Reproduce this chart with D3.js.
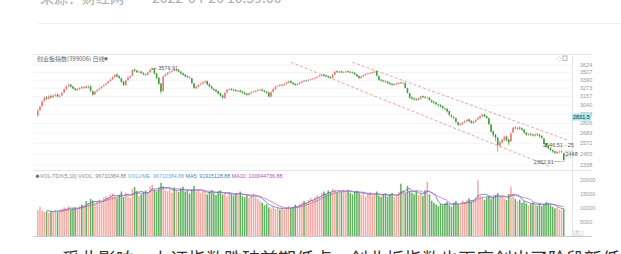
<!DOCTYPE html>
<html>
<head>
<meta charset="utf-8">
<script src="https://cdn.jsdelivr.net/npm/d3@7"></script>
<style>
  body { margin: 0; background: #fff; overflow: hidden; }
  svg { display: block; font-family: "Noto Sans CJK SC", "Noto Sans", sans-serif; }
</style>
</head>
<body>
<svg width="621" height="254"></svg>
<script>
// daily candles (log price axis)
const opens = [
  2900,2965,3020,3090,3140,3118,3155,3140,3160,3178,3148,3165,3205,3258,3295,3318,3292,3265,3238,3252,
  3280,3268,3290,3272,3295,3225,3180,3222,3245,3268,3295,3318,3340,3370,3395,3432,3470,3445,3412,3365,
  3310,3385,3420,3450,3545,3530,3500,3515,3492,3472,3465,3502,3540,3565,3485,3420,3335,3225,3445,3468,
  3498,3515,3535,3525,3540,3512,3490,3465,3445,3425,3410,3335,3268,3288,3318,3332,3348,3370,3325,3295,
  3255,3245,3222,3195,3165,3128,3205,3240,3255,3248,3240,3220,3235,3222,3205,3190,3170,3192,3212,3215,
  3228,3238,3248,3232,3218,3205,3148,3212,3250,3292,3310,3300,3312,3328,3345,3370,3348,3330,3310,3328,
  3348,3375,3365,3378,3390,3400,3408,3420,3438,3448,3468,3455,3445,3432,3415,3465,3520,3500,3518,3495,
  3505,3520,3510,3500,3495,3470,3445,3412,3438,3460,3478,3482,3490,3500,3520,3445,3392,3380,3370,3362,
  3345,3330,3310,3322,3330,3348,3335,3340,3265,3195,3138,3125,3118,3098,3120,3155,3145,3128,3135,3098,
  3078,3068,3040,3035,3020,2990,2985,2955,2900,2880,2865,2815,2778,2790,2810,2828,2850,2830,2800,2822,
  2848,2865,2888,2912,2890,2865,2785,2705,2665,2630,2540,2575,2600,2645,2610,2590,2690,2750,2730,2750,
  2740,2725,2688,2660,2675,2665,2650,2672,2665,2650,2620,2565,2535,2515,2490,2478,2455,2465,2470,2455
];
const highs = [
  2985,3030,3100,3150,3160,3168,3175,3182,3195,3190,3178,3215,3270,3305,3335,3330,3300,3275,3270,3285,
  3295,3298,3305,3310,3305,3235,3230,3255,3280,3302,3325,3350,3380,3410,3445,3480,3485,3455,3420,3372,
  3392,3440,3458,3550,3560,3540,3530,3525,3505,3488,3512,3552,3576.91,3570,3495,3428,3340,3448,3485,3508,
  3528,3535,3550,3555,3550,3522,3500,3475,3458,3440,3418,3342,3302,3325,3345,3365,3382,3378,3335,3305,
  3268,3255,3230,3205,3172,3210,3255,3265,3268,3260,3252,3245,3248,3232,3215,3198,3205,3222,3232,3242,
  3252,3258,3260,3242,3228,3212,3220,3265,3302,3315,3322,3328,3342,3362,3380,3382,3358,3340,3342,3362,
  3378,3388,3392,3400,3408,3420,3430,3448,3465,3478,3480,3465,3455,3442,3480,3525,3530,3525,3528,3520,
  3528,3530,3522,3515,3505,3478,3452,3450,3472,3488,3498,3505,3515,3530,3528,3452,3402,3390,3382,3372,
  3355,3340,3338,3348,3355,3360,3358,3348,3272,3200,3150,3135,3128,3138,3162,3165,3155,3145,3142,3108,
  3088,3075,3052,3045,3028,3002,2992,2962,2912,2895,2872,2822,2810,2820,2838,2858,2860,2840,2835,2855,
  2882,2902,2922,2920,2898,2870,2792,2712,2672,2635,2595,2620,2652,2655,2618,2690,2760,2765,2758,2762,
  2750,2732,2695,2682,2685,2676,2680,2682,2672,2658,2625,2572,2545,2522,2500,2485,2482,2488,2492,2462
];
const lows = [
  2880,2950,3005,3075,3100,3105,3120,3128,3145,3135,3130,3155,3195,3240,3280,3272,3250,3225,3225,3240,
  3255,3255,3262,3260,3215,3160,3168,3210,3235,3255,3282,3305,3330,3358,3385,3420,3425,3400,3345,3295,
  3300,3370,3410,3442,3505,3488,3490,3478,3455,3445,3455,3495,3530,3470,3400,3315,3190,3220,3430,3455,
  3485,3500,3515,3512,3498,3470,3450,3428,3415,3400,3325,3255,3255,3275,3305,3320,3338,3310,3278,3248,
  3228,3205,3178,3145,3115,3120,3195,3228,3230,3222,3212,3210,3205,3188,3172,3160,3162,3182,3200,3205,
  3218,3228,3220,3205,3188,3138,3140,3205,3242,3282,3292,3290,3302,3318,3335,3335,3315,3302,3300,3320,
  3340,3358,3355,3368,3378,3388,3395,3410,3428,3440,3440,3430,3418,3405,3408,3458,3492,3490,3488,3485,
  3495,3495,3485,3480,3458,3428,3400,3405,3430,3450,3468,3472,3480,3492,3440,3375,3362,3352,3345,3328,
  3312,3300,3300,3312,3320,3328,3325,3262,3190,3120,3105,3095,3088,3090,3112,3128,3122,3115,3090,3062,
  3050,3032,3015,3000,2980,2965,2935,2890,2868,2850,2805,2765,2768,2778,2798,2818,2815,2795,2790,2812,
  2838,2858,2878,2872,2855,2778,2688,2640,2590,2472,2520,2560,2590,2585,2540,2580,2682,2728,2720,2722,
  2710,2678,2650,2648,2650,2642,2640,2650,2632,2615,2548,2515,2495,2478,2460,2445,2448,2455,2460,2362.91
];
const closes = [
  2960,3010,3085,3132,3120,3150,3138,3165,3173,3150,3160,3200,3255,3290,3314,3290,3262,3243,3255,3268,
  3271,3282,3276,3290,3230,3173,3218,3240,3265,3290,3310,3338,3365,3392,3430,3462,3440,3417,3360,3314,
  3380,3425,3440,3538,3525,3505,3512,3490,3470,3462,3500,3540,3569,3480,3417,3330,3218,3440,3470,3495,
  3512,3520,3530,3538,3510,3485,3462,3440,3430,3417,3340,3271,3290,3314,3330,3350,3365,3320,3290,3260,
  3240,3218,3190,3160,3132,3200,3243,3250,3243,3235,3225,3230,3218,3200,3185,3173,3195,3210,3218,3230,
  3240,3243,3230,3215,3200,3150,3210,3255,3290,3300,3305,3314,3330,3350,3365,3345,3325,3314,3330,3350,
  3365,3370,3380,3387,3395,3405,3417,3435,3450,3462,3450,3440,3430,3417,3470,3512,3505,3512,3500,3508,
  3512,3505,3498,3493,3470,3440,3417,3440,3462,3475,3485,3493,3505,3512,3450,3387,3375,3365,3358,3340,
  3325,3314,3325,3335,3343,3340,3343,3270,3200,3132,3120,3110,3104,3125,3150,3140,3135,3132,3100,3075,
  3064,3045,3030,3015,2995,2980,2950,2907,2885,2869,2820,2783,2795,2807,2825,2844,2825,2807,2825,2844,
  2870,2890,2907,2885,2869,2790,2700,2660,2628,2548,2580,2605,2640,2600,2571,2680,2746,2740,2746,2735,
  2723,2690,2663,2670,2663,2655,2668,2663,2645,2628,2560,2530,2510,2493,2475,2461,2470,2472,2480,2385
];
// volume, in 万
const volumes = [
  9200,10400,9000,8600,8800,8300,8900,8700,9300,8500,8800,9600,10200,9800,10500,9400,9800,10100,9700,10600,
  11200,10800,12400,11800,13200,12600,11400,12100,13000,12500,13600,14200,13800,14800,15200,14100,13400,14600,15800,13900,
  15400,14200,13500,16800,17400,15900,14300,14800,15600,16200,15300,17600,18200,16400,15800,17100,18900,17800,16300,15900,
  16800,15400,17200,16100,15600,16900,17500,15800,16200,15100,16600,17800,15900,16400,15200,16000,15500,14800,15700,16300,
  15200,14600,15900,16200,14800,15300,14100,15600,14900,14400,15100,14700,15800,14200,13800,14500,13600,14300,15000,14100,
  13200,12400,11800,10900,11300,10200,9800,10400,9600,10100,9400,9900,9300,10200,10700,9800,10300,11100,10600,11400,
  11800,12400,11900,12800,13500,12900,13800,14600,14100,15300,15800,14900,16200,15600,16800,16300,15400,16100,15700,16500,
  15900,16200,15300,14800,15600,16100,15200,14600,15400,14100,14900,15500,14300,14700,15800,14400,13900,14800,15200,14000,
  14600,15300,13800,14200,15600,18600,16400,15200,17800,16100,15400,14800,15900,14600,15100,14200,16300,19200,14800,12600,
  11800,11200,10600,11400,10900,11600,12200,11000,10400,11800,12400,11200,10800,12600,11900,12800,13400,12300,12900,13600,
  19800,14200,13600,12900,13800,14400,13100,13900,14600,15200,13800,14100,13400,12800,14900,17600,14800,13200,12400,12900,
  11800,12300,11600,10900,11400,11900,11200,10800,11500,10600,11300,12100,11700,10900,10400,9800,10200,9400,9100,9700
];
const priceTicks = [2338, 2455, 2572, 2689, 2806, 2923, 3040, 3157, 3273, 3390, 3507, 3624];
const volTicks = [5000, 10000, 15000, 20000];
// drawn channel lines: [startIndex, startPrice, endIndex, endPrice]
const trendLines = [[143, 3660, 241, 2600], [115, 3660, 233, 2315]];

const upColor = '#ef7473';
const downColor = '#3a9d3a';
const upVol = '#f6aaa4';
const downVol = '#62b062';

const svg = d3.select('svg');
const N = closes.length;
const idx = d3.range(N);

const x = d3.scaleBand().domain(idx).range([37, 564.5]).paddingInner(0.3);
// centre of candle i (also works for positions past the last candle)
const cx = i => x(0) + x.step() * i + x.bandwidth() / 2;
const y = d3.scaleLog().domain([2338, 3624]).range([164.5, 64.5]);
const yv = d3.scaleLinear().domain([0, 20000]).range([236, 179.7]);

// page header (cut off at the top)
svg.append('text').attr('x', 40).attr('y', 3)
  .attr('font-size', 14).attr('fill', '#aaa')
  .text('来源：财经网　　2022-04-26 10:59:00');
svg.append('line').attr('x1', 38).attr('x2', 621).attr('y1', 23.5).attr('y2', 23.5)
  .attr('stroke', '#eee');

// frame
const frame = svg.append('g').attr('stroke', '#e6e6e6').attr('fill', 'none');
frame.append('line').attr('x1', 33).attr('x2', 592).attr('y1', 54.5).attr('y2', 54.5);
frame.append('line').attr('x1', 572.5).attr('x2', 572.5).attr('y1', 54).attr('y2', 237);
frame.append('line').attr('x1', 33).attr('x2', 592).attr('y1', 170.5).attr('y2', 170.5);
frame.append('line').attr('x1', 33).attr('x2', 592).attr('y1', 236.5).attr('y2', 236.5).attr('stroke', '#ccc');

// price grid
svg.append('g')
  .attr('transform', 'translate(572,0)')
  .call(d3.axisLeft(y).tickValues(priceTicks).tickSize(539).tickFormat(''))
  .call(g => g.select('.domain').remove())
  .call(g => g.selectAll('line').attr('stroke', '#f4f4f4'));

// price axis labels
svg.append('g')
  .attr('transform', 'translate(576,0)')
  .call(d3.axisRight(y).tickValues(priceTicks).tickSize(0).tickFormat(d3.format('d')))
  .call(g => g.select('.domain').remove())
  .call(g => g.selectAll('text').attr('font-size', 5.5).attr('fill', '#999')
    .attr('font-family', 'Liberation Sans, sans-serif').attr('dx', 1));

// titles
svg.append('text').attr('x', 37).attr('y', 60.5).attr('font-size', 6).attr('fill', '#666')
  .text('创业板指数(399006) 日线');
svg.append('circle').attr('cx', 106).attr('cy', 58.7).attr('r', 1.8).attr('fill', '#777');
svg.append('text').attr('x', 556).attr('y', 60.5).attr('font-size', 6).attr('fill', '#999').text('◇');
svg.append('rect').attr('x', 563).attr('y', 56).attr('width', 4).attr('height', 4.5)
  .attr('fill', 'none').attr('stroke', '#999').attr('stroke-width', 0.7);

// channel lines
svg.append('g').selectAll('line').data(trendLines).join('line')
  .attr('x1', d => cx(d[0])).attr('y1', d => y(d[1]))
  .attr('x2', d => cx(d[2])).attr('y2', d => y(d[3]))
  .attr('stroke', '#e77b7b').attr('stroke-width', 0.7).attr('stroke-dasharray', '3,2');

// candles
const candles = svg.append('g').selectAll('g').data(idx).join('g')
  .attr('stroke', i => closes[i] >= opens[i] ? upColor : downColor)
  .attr('fill', i => closes[i] >= opens[i] ? upColor : downColor);
candles.append('line')
  .attr('x1', cx).attr('x2', cx)
  .attr('y1', i => y(highs[i])).attr('y2', i => y(lows[i]))
  .attr('stroke-width', 0.6);
candles.append('rect')
  .attr('x', i => x(i)).attr('width', x.bandwidth())
  .attr('y', i => y(Math.max(opens[i], closes[i])))
  .attr('height', i => Math.max(0.6, Math.abs(y(opens[i]) - y(closes[i]))))
  .attr('stroke', 'none');

// high / low marks
const hi = d3.maxIndex(highs), lo = d3.minIndex(lows);
const mark = svg.append('g').attr('font-size', 5.5).attr('fill', '#555')
  .attr('font-family', 'Liberation Sans, sans-serif');
mark.append('line').attr('x1', cx(hi) + 1).attr('x2', cx(hi) + 5)
  .attr('y1', y(highs[hi]) + 1).attr('y2', y(highs[hi]) + 1).attr('stroke', '#777').attr('stroke-width', 0.5);
mark.append('text').attr('x', cx(hi) + 6).attr('y', y(highs[hi]) + 3).text(d3.format('.2f')(highs[hi]));
mark.append('line').attr('x1', cx(lo) - 10).attr('x2', cx(lo) - 1.5)
  .attr('y1', y(lows[lo]) - 0.5).attr('y2', y(lows[lo]) - 0.5).attr('stroke', '#777').attr('stroke-width', 0.5);
mark.append('text').attr('x', cx(lo) - 10).attr('y', y(lows[lo]) + 1.5).attr('text-anchor', 'end')
  .text(d3.format('.2f')(lows[lo]));
mark.append('text').attr('x', 543).attr('y', y(2546.51) + 2).text('2546.51 - 25');
mark.append('rect').attr('x', 565).attr('y', y(2448) - 3).attr('width', 7.5).attr('height', 6)
  .attr('fill', '#fff').attr('stroke', '#999').attr('stroke-width', 0.4);
mark.append('text').attr('x', 565.5).attr('y', y(2448) + 2).text('2448');

// current level tag on the axis (sits between the 2923 and 2806 labels)
const tag = 2831.5;
const tagY = y(tag) - 3.8;
svg.append('rect').attr('x', 572).attr('y', tagY - 3.5).attr('width', 19).attr('height', 7)
  .attr('fill', '#a6e3ee');
svg.append('text').attr('x', 573).attr('y', tagY + 2).attr('font-size', 5.5).attr('fill', '#333')
  .attr('font-family', 'Liberation Sans, sans-serif').text(tag);

// volume panel
const volTitle = svg.append('text').attr('x', 40).attr('y', 178).attr('font-size', 5.3)
  .attr('font-family', 'Liberation Sans, sans-serif');
volTitle.append('tspan').attr('fill', '#888').text('VOL-TDX(5,10)  VVOL: 96710384.88  ');
volTitle.append('tspan').attr('fill', '#5aaee0').text('VOLUME: 96710384.88  ');
volTitle.append('tspan').attr('fill', '#4a78c8').text('MA5: 91915128.88  ');
volTitle.append('tspan').attr('fill', '#b04fc0').text('MA10: 100044736.88');
svg.append('circle').attr('cx', 37.5).attr('cy', 176.2).attr('r', 1.8).attr('fill', '#777');

svg.append('g').selectAll('rect').data(idx).join('rect')
  .attr('x', i => x(i)).attr('width', x.bandwidth())
  .attr('y', i => yv(volumes[i])).attr('height', i => yv(0) - yv(volumes[i]))
  .attr('fill', i => closes[i] >= opens[i] ? upVol : downVol);

const ma = n => idx.map(i => i < n - 1 ? null : d3.mean(volumes.slice(i - n + 1, i + 1)));
const maLine = d3.line().defined(d => d != null).x((d, i) => cx(i)).y(d => yv(d));
svg.append('path').datum(ma(5)).attr('d', maLine)
  .attr('fill', 'none').attr('stroke', '#4a63a8').attr('stroke-width', 0.7);
svg.append('path').datum(ma(10)).attr('d', maLine)
  .attr('fill', 'none').attr('stroke', '#b45cc8').attr('stroke-width', 0.7);

svg.append('g')
  .attr('transform', 'translate(576,0)')
  .call(d3.axisRight(yv).tickValues(volTicks).tickSize(0).tickFormat(d3.format('d')))
  .call(g => g.select('.domain').remove())
  .call(g => g.selectAll('text').attr('font-size', 5.5).attr('fill', '#999')
    .attr('font-family', 'Liberation Sans, sans-serif').attr('dx', 1));
svg.append('rect').attr('x', 573).attr('y', 231).attr('width', 10).attr('height', 5)
  .attr('fill', '#fff').attr('stroke', '#bbb').attr('stroke-width', 0.4);
svg.append('text').attr('x', 574).attr('y', 235).attr('font-size', 4).attr('fill', '#999').text('(万)');

// article text below (cut off)
svg.append('text').attr('x', 62).attr('y', 266).attr('font-size', 18).attr('fill', '#333')
  .text('受此影响，上证指数跌破前期低点，创业板指数也再度创出了阶段新低。');
</script>
</body>
</html>
